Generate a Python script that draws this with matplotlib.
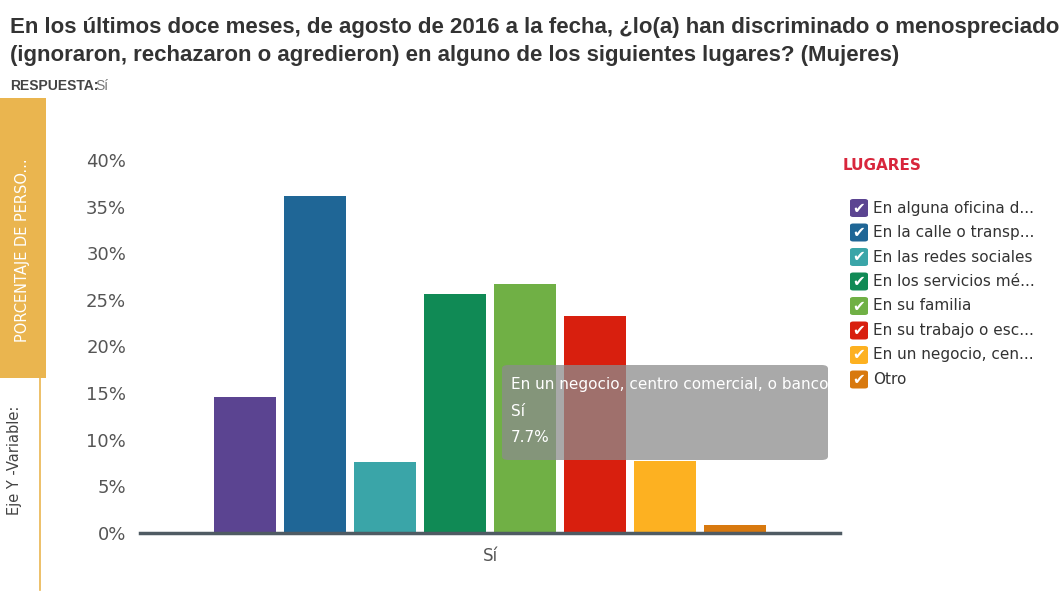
import matplotlib.pyplot as plt
from matplotlib.patches import FancyBboxPatch, Rectangle

# datos
categorias = ["En alguna oficina d...", "En la calle o transp...", "En las redes sociales",
              "En los servicios mé...", "En su familia", "En su trabajo o esc...",
              "En un negocio, cen...", "Otro"]
valores = [14.6, 36.1, 7.6, 25.6, 26.7, 23.3, 7.7, 0.9]
colores = ["#5b4491", "#1f6696", "#3aa5a8", "#108a55", "#70b045", "#d81f0e", "#fdb121", "#d8790f"]
yticks = [0, 5, 10, 15, 20, 25, 30, 35, 40]

NARROW = ["Liberation Sans Narrow", "Liberation Sans", "DejaVu Sans"]

W, H = 1063, 600
fig = plt.figure(figsize=(W / 100, H / 100), dpi=100)

ax = fig.add_axes([140 / W, 1 - 533 / H, 700 / W, (533 - 160) / H])
ax.bar(range(len(valores)), valores, width=0.89, color=colores, zorder=2)
ax.set_xlim(-1.5, 8.5)
ax.set_ylim(0, 40)
ax.set_yticks(yticks)
ax.set_yticklabels([f"{v}%" for v in yticks], fontsize=13, color="#555555")
ax.set_xticks([3.5])
ax.set_xticklabels(["Sí"], fontsize=12, color="#555555")
ax.tick_params(length=0, pad=10)
for s in ["top", "right", "left"]:
    ax.spines[s].set_visible(False)
ax.spines["bottom"].set_color("#4f5b63")
ax.spines["bottom"].set_linewidth(2.5)

# tooltip
tip = FancyBboxPatch((502 / W, 1 - 460 / H), 326 / W, 95 / H, boxstyle="round,pad=0,rounding_size=0.006",
                     transform=fig.transFigure, facecolor="#8c8c8c", alpha=0.75, edgecolor="none", zorder=5)
fig.patches.append(tip)
for k, t in enumerate(["En un negocio, centro comercial, o banco", "Sí", "7.7%"]):
    fig.text(511 / W, 1 - (385 + 26 * k) / H, t, fontsize=11, color="white", va="center", zorder=6)

# titulo
fig.text(10 / W, 1 - 28 / H, "En los últimos doce meses, de agosto de 2016 a la fecha, ¿lo(a) han discriminado o menospreciado",
         fontsize=16, fontweight="bold", color="#333333", va="center", family=NARROW)
fig.text(10 / W, 1 - 56 / H, "(ignoraron, rechazaron o agredieron) en alguno de los siguientes lugares? (Mujeres)",
         fontsize=16, fontweight="bold", color="#333333", va="center", family=NARROW)
fig.text(10 / W, 1 - 86 / H, "RESPUESTA:", fontsize=10, fontweight="bold", color="#444444", va="center",
         family=NARROW)
fig.text(95 / W, 1 - 86 / H, "Sí", fontsize=10, color="#777777", va="center", family=NARROW)

# panel izquierdo
fig.patches.append(Rectangle((0, 1 - 378 / H), 46 / W, 280 / H, transform=fig.transFigure,
                             facecolor="#eab54f", edgecolor="none"))
fig.text(23 / W, 1 - 250 / H, "PORCENTAJE DE PERSO...", rotation=90, fontsize=10.5, color="white",
         ha="center", va="center")
fig.add_artist(plt.Line2D([40 / W, 40 / W], [1 - 590 / H, 1 - 378 / H], color="#eab54f", linewidth=1.2))
fig.text(15 / W, 1 - 460 / H, "Eje Y -Variable:", rotation=90, fontsize=10.5, color="#444444",
         ha="center", va="center")

# leyenda
fig.text(843 / W, 1 - 166 / H, "LUGARES", fontsize=11, fontweight="bold", color="#d8263c", va="center")
for i, (cat, c) in enumerate(zip(categorias, colores)):
    y = 1 - (208 + i * 24.5) / H
    fig.patches.append(FancyBboxPatch((850 / W, y - 9 / H), 18 / W, 18 / H,
                                      boxstyle="round,pad=0,rounding_size=0.003",
                                      transform=fig.transFigure, facecolor=c, edgecolor="none"))
    fig.text(859 / W, y, "✔", fontsize=11, color="white", ha="center", va="center")
    fig.text(873 / W, y, cat, fontsize=11, color="#333333", va="center")

fig.savefig("out.png", dpi=100)
